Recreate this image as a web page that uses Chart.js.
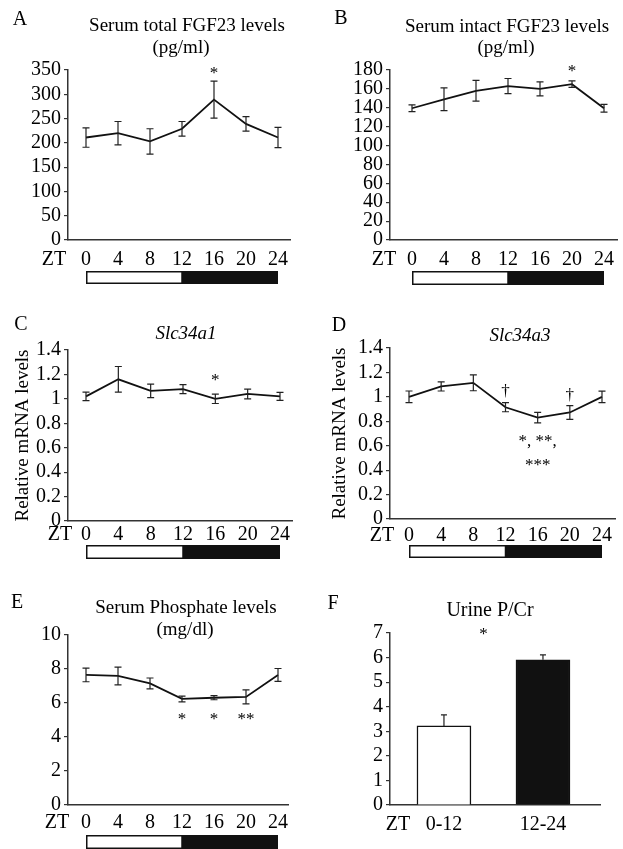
<!DOCTYPE html>
<html>
<head>
<meta charset="utf-8">
<title>FGF23 / phosphate diurnal rhythm</title>
<script src="https://cdn.jsdelivr.net/npm/chart.js@4.4.1/dist/chart.umd.min.js"></script>
<style>
  html, body { margin: 0; padding: 0; background: #fff; }
  #fig { position: relative; width: 623px; height: 849px; overflow: hidden; }
  #fig canvas { position: absolute; }
</style>
</head>
<body>
<div id="fig">
  <canvas id="chartA" width="311" height="290" style="left:0;top:0"></canvas>
  <canvas id="chartB" width="312" height="290" style="left:311px;top:0"></canvas>
  <canvas id="chartC" width="311" height="280" style="left:0;top:290px"></canvas>
  <canvas id="chartD" width="312" height="280" style="left:311px;top:290px"></canvas>
  <canvas id="chartE" width="311" height="279" style="left:0;top:570px"></canvas>
  <canvas id="chartF" width="312" height="279" style="left:311px;top:570px"></canvas>
</div>
<script>
// Data
const ztHours = [0, 4, 8, 12, 16, 20, 24];
const ztLabels = ['0', '4', '8', '12', '16', '20', '24'];
const lightPhase = [0, 12];
const darkPhase = [12, 24];

const fgfTotal = [211, 220, 203, 229, 289, 239, 211];
const fgfTotalErr = [20, 24, 26, 15, 38, 15, 21];

const fgfIntact = [139.5, 149, 158, 163, 160, 165, 139.5];
const fgfIntactErr = [3.5, 12, 11, 8, 7.5, 3.5, 4];

const slc34a1 = [1.02, 1.16, 1.065, 1.08, 1.0, 1.04, 1.02];
const slc34a1Err = [0.035, 0.105, 0.055, 0.037, 0.038, 0.04, 0.033];

const slc34a3 = [1.0, 1.085, 1.115, 0.915, 0.83, 0.872, 1.0];
const slc34a3Err = [0.048, 0.037, 0.065, 0.037, 0.043, 0.057, 0.047];

const phosphate = [7.65, 7.59, 7.15, 6.24, 6.31, 6.36, 7.65];
const phosphateErr = [0.4, 0.52, 0.32, 0.17, 0.12, 0.41, 0.38];

const urineGroups = ['0-12', '12-24'];
const urinePCr = [3.22, 5.91];
const urinePCrErr = [0.45, 0.2];

const SERIF = "'Liberation Serif', 'Times New Roman', Times, serif";
const INK = '#111';
const AXIS = '#333';

// Error bars drawn from dataset.errors through the chart scales
const errorBars = {
    id: 'errorBars',
    afterDatasetsDraw(chart) {
        const { ctx, scales: { y } } = chart;
        chart.data.datasets.forEach((ds, di) => {
            if (!ds.errors) return;
            const meta = chart.getDatasetMeta(di);
            ctx.save();
            ctx.strokeStyle = '#222';
            ctx.lineWidth = 1.2;
            meta.data.forEach((el, i) => {
                const v = meta.controller.getParsed(i).y;
                const e = ds.errors[i];
                const top = y.getPixelForValue(v + e);
                const bot = ds.errorUp ? y.getPixelForValue(v) : y.getPixelForValue(v - e);
                const cap = ds.errorUp ? 3 : 3.5;
                ctx.beginPath();
                ctx.moveTo(el.x, top);
                ctx.lineTo(el.x, bot);
                ctx.moveTo(el.x - cap, top);
                ctx.lineTo(el.x + cap, top);
                if (!ds.errorUp) {
                    ctx.moveTo(el.x - cap, bot);
                    ctx.lineTo(el.x + cap, bot);
                }
                ctx.stroke();
            });
            ctx.restore();
        });
    }
};

// Panel letter, titles, ZT label, light/dark bar and significance marks
const decor = {
    id: 'decor',
    afterDraw(chart, args, opts) {
        const { ctx, chartArea, scales } = chart;
        ctx.save();
        ctx.fillStyle = '#000';
        ctx.textAlign = 'center';
        ctx.textBaseline = 'middle';

        ctx.font = `20px ${SERIF}`;
        ctx.fillText(opts.letter, opts.letterAt[0], opts.letterAt[1]);

        (opts.titles || []).forEach(t => {
            ctx.font = `${t.italic ? 'italic ' : ''}${t.size || 19}px ${SERIF}`;
            ctx.fillText(t.text, t.at[0], t.at[1]);
        });

        ctx.font = `20px ${SERIF}`;
        ctx.fillText('ZT', chartArea.left + opts.ztDx, chartArea.bottom + opts.ztDy);

        if (opts.barDy != null) {
            const x = scales.x;
            const top = chartArea.bottom + opts.barDy;
            const l0 = x.getPixelForValue(lightPhase[0]);
            const l1 = x.getPixelForValue(lightPhase[1]);
            const d0 = x.getPixelForValue(darkPhase[0]);
            const d1 = x.getPixelForValue(darkPhase[1]);
            ctx.fillStyle = INK;
            ctx.fillRect(d0, top, d1 - d0, opts.barH);
            ctx.strokeStyle = INK;
            ctx.lineWidth = 1.5;
            ctx.strokeRect(l0 + 0.75, top + 0.75, l1 - l0 - 0.75, opts.barH - 1.5);
            ctx.fillStyle = '#000';
        }

        (opts.marks || []).forEach(m => {
            ctx.font = `${m.size || 17}px ${SERIF}`;
            const px = scales.x.getPixelForValue(m.x);
            const py = scales.y.getPixelForValue(m.y) + (m.text.startsWith('*') ? 4 : 0);
            ctx.fillText(m.text, px, py);
        });
        ctx.restore();
    }
};

function yAxis(p) {
    return {
        min: 0,
        max: p.yMax,
        afterFit: s => { s.width = p.yWidth; },
        ticks: {
            stepSize: p.yStep,
            autoSkip: false,
            color: '#000',
            padding: 3,
            font: { family: SERIF, size: p.yTickSize || 20 },
            callback: v => String(+v.toFixed(2))
        },
        grid: { drawOnChartArea: false, drawTicks: true, tickLength: 4, color: AXIS, lineWidth: 1.2 },
        border: { display: true, color: AXIS, width: 1.5 },
        title: p.yTitle ? {
            display: true,
            text: p.yTitle,
            color: '#000',
            font: { family: SERIF, size: 19 },
            padding: { top: p.yTitlePad, bottom: 0 }
        } : { display: false }
    };
}

function xAxis(p, values, labels) {
    return {
        type: 'linear',
        offset: false,
        min: p.xMin,
        max: p.xMax,
        afterBuildTicks: s => { s.ticks = values.map(v => ({ value: v })); },
        afterFit: s => { s.height = p.xHeight; },
        ticks: {
            autoSkip: false,
            maxRotation: 0,
            color: '#000',
            padding: p.decor.ztDy - 12,
            font: { family: SERIF, size: 20 },
            callback: (v, i) => labels[i]
        },
        grid: { display: false, drawTicks: false, offset: false },
        border: { display: true, color: AXIS, width: 1.5 }
    };
}

function baseOptions(p, xScale) {
    return {
        responsive: false,
        animation: false,
        layout: { padding: { top: p.padTop, right: p.padRight, left: 0, bottom: 0 } },
        plugins: {
            legend: { display: false },
            tooltip: { enabled: false },
            title: { display: false },
            decor: p.decor
        },
        scales: { x: xScale, y: yAxis(p) }
    };
}

function lineChart(id, values, errors, p) {
    return new Chart(document.getElementById(id), {
        type: 'line',
        data: {
            datasets: [{
                data: ztHours.map((h, i) => ({ x: h, y: values[i] })),
                errors: errors,
                borderColor: INK,
                borderWidth: 1.8,
                pointRadius: 0,
                tension: 0,
                fill: false
            }]
        },
        options: baseOptions(p, xAxis(p, ztHours, ztLabels)),
        plugins: [errorBars, decor]
    });
}

// A
lineChart('chartA', fgfTotal, fgfTotalErr, {
    yMax: 350, yStep: 50, yWidth: 68, padTop: 70, padRight: 21, xHeight: 50,
    xMin: -2.25, xMax: 25.5,
    decor: {
        letter: 'A', letterAt: [20, 20],
        titles: [{ text: 'Serum total FGF23 levels', at: [187, 26] }, { text: '(pg/ml)', at: [181, 48] }],
        ztDx: -14, ztDy: 20, barDy: 31, barH: 13,
        marks: [{ x: 16, y: 350, text: '*' }]
    }
});

// B
lineChart('chartB', fgfIntact, fgfIntactErr, {
    yMax: 180, yStep: 20, yWidth: 79, padTop: 70, padRight: 6, xHeight: 50,
    xMin: -2.75, xMax: 25.625,
    decor: {
        letter: 'B', letterAt: [30, 19],
        titles: [{ text: 'Serum intact FGF23 levels', at: [196, 27] }, { text: '(pg/ml)', at: [195, 48] }],
        ztDx: -6, ztDy: 20, barDy: 31, barH: 14,
        marks: [{ x: 20, y: 183, text: '*' }]
    }
});

// C
lineChart('chartC', slc34a1, slc34a1Err, {
    yMax: 1.4, yStep: 0.2, yWidth: 68, padTop: 60, padRight: 19, xHeight: 49,
    xMin: -2.227, xMax: 25.485,
    yTitle: 'Relative mRNA levels', yTitlePad: 11.6,
    decor: {
        letter: 'C', letterAt: [21, 35],
        titles: [{ text: 'Slc34a1', at: [186, 44], italic: true }],
        ztDx: -8, ztDy: 14, barDy: 24, barH: 14,
        marks: [{ x: 16, y: 1.186, text: '*' }]
    }
});

// D
lineChart('chartD', slc34a3, slc34a3Err, {
    yMax: 1.4, yStep: 0.2, yWidth: 79, padTop: 58, padRight: 8, xHeight: 51,
    xMin: -2.363, xMax: 25.617,
    yTitle: 'Relative mRNA levels', yTitlePad: 17.6,
    decor: {
        letter: 'D', letterAt: [28, 36],
        titles: [{ text: 'Slc34a3', at: [209, 46], italic: true }],
        ztDx: -8, ztDy: 17, barDy: 26, barH: 13,
        marks: [
            { x: 12, y: 1.04, text: '†' },
            { x: 20, y: 1.007, text: '†' },
            { x: 16, y: 0.663, text: '*, **,' },
            { x: 16, y: 0.467, text: '***' }
        ]
    }
});

// E
lineChart('chartE', phosphate, phosphateErr, {
    yMax: 10, yStep: 2, yWidth: 68, padTop: 65, padRight: 23, xHeight: 44,
    xMin: -2.25, xMax: 25.25,
    decor: {
        letter: 'E', letterAt: [17, 33],
        titles: [{ text: 'Serum Phosphate levels', at: [186, 38] }, { text: '(mg/dl)', at: [185, 60] }],
        ztDx: -11, ztDy: 18, barDy: 30, barH: 14,
        marks: [
            { x: 12, y: 5.29, text: '*' },
            { x: 16, y: 5.29, text: '*' },
            { x: 20, y: 5.29, text: '**' }
        ]
    }
});

// F
const pF = {
    yMax: 7, yStep: 1, yWidth: 79, padTop: 63, padRight: 23, xHeight: 44,
    xMin: -0.545, xMax: 1.576,
    decor: {
        letter: 'F', letterAt: [22, 34],
        titles: [{ text: 'Urine P/Cr', at: [179, 41], size: 20 }],
        ztDx: 8, ztDy: 20,
        marks: [{ x: 0.4, y: 7.12, text: '*' }]
    }
};
new Chart(document.getElementById('chartF'), {
    type: 'bar',
    data: {
        datasets: [{
            data: urineGroups.map((g, i) => ({ x: i, y: urinePCr[i] })),
            errors: urinePCrErr,
            errorUp: true,
            backgroundColor: ['#fff', INK],
            borderColor: INK,
            borderWidth: 1.5,
            barThickness: 54
        }]
    },
    options: baseOptions(pF, xAxis(pF, urineGroups.map((g, i) => i), urineGroups)),
    plugins: [errorBars, decor]
});
</script>
</body>
</html>
